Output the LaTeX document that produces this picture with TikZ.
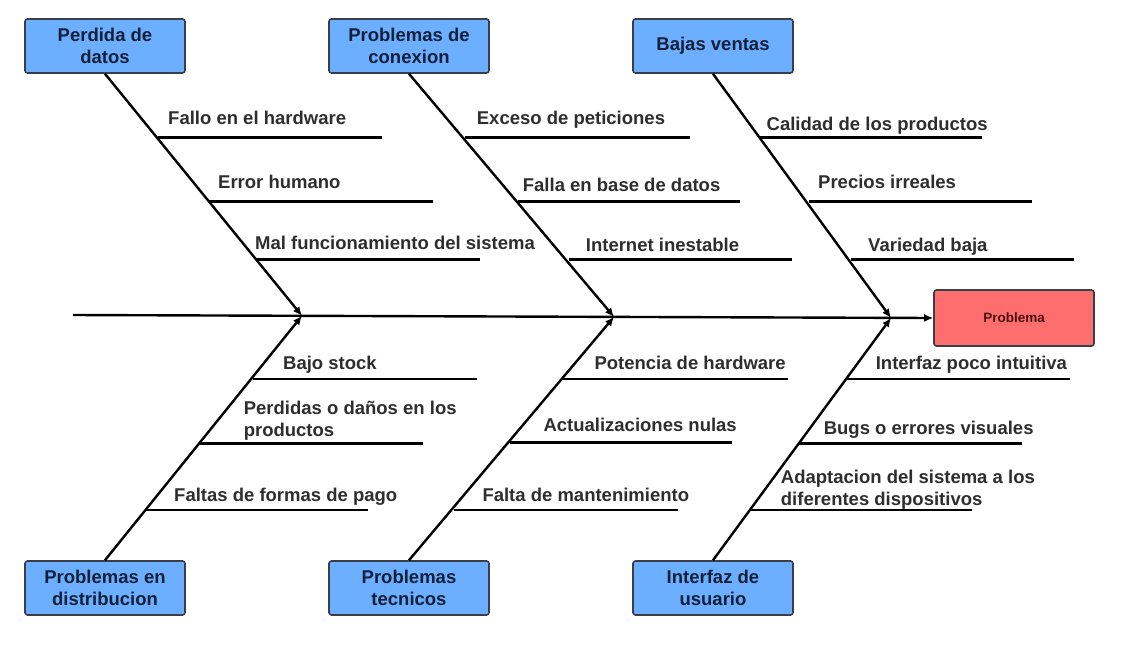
\documentclass[tikz,border=0pt]{standalone}
\usepackage{fontspec}
\setmainfont{Liberation Sans}
\usetikzlibrary{arrows.meta}
\definecolor{causeblue}{HTML}{6CAEFF}
\definecolor{causeline}{HTML}{3A3F47}
\definecolor{causetext}{HTML}{13203A}
\definecolor{effectred}{HTML}{FF6E6E}
\definecolor{effecttext}{HTML}{4A0E0E}
\definecolor{labeltext}{HTML}{2E2E2E}

\begin{document}
\begin{tikzpicture}[x=1pt, y=-1pt,
cause/.style={draw=causeline, line width=1.6pt, rounded corners=2.5pt, fill=causeblue,
text=causetext, align=center, font=\bfseries\fontsize{18.5}{22}\selectfont,
minimum width=160pt, minimum height=54pt, inner sep=2pt},
effect/.style={draw=causeline, line width=1.6pt, rounded corners=2.5pt, fill=effectred,
text=effecttext, font=\bfseries\fontsize{13.5}{16}\selectfont,
minimum width=160pt, minimum height=56pt},
bone/.style={line width=2.4pt, -{Latex[length=9pt,width=8pt]}},
twig/.style={line width=2.4pt},
lbl/.style={anchor=base west, inner sep=0pt, align=left, text=labeltext,
font=\bfseries\fontsize{18.5}{22}\selectfont}
]
\fill[white] (0,0) rectangle (1130,646);
\useasboundingbox (0,0) rectangle (1130,646);

% effect and main line
\node[effect] (problema) at (1014,318) {Problema};
\coordinate (tail) at (73,315);
\coordinate (j1) at (302,315.8);
\coordinate (j2) at (614,316.9);
\coordinate (j3) at (891,317.9);
\draw[bone] (tail) -- (problema.west);

% causes
\node[cause] (datos) at (105,46) {Perdida de\\datos};
\node[cause] (conexion) at (409,46) {Problemas de\\conexion};
\node[cause] (ventas) at (713,46) {Bajas ventas};
\node[cause] (distribucion) at (105,588) {Problemas en\\distribucion};
\node[cause] (tecnicos) at (409,588) {Problemas\\tecnicos};
\node[cause] (interfaz) at (713,588) {Interfaz de\\usuario};

\draw[bone] (datos.south) -- (j1);
\draw[bone] (conexion.south) -- (j2);
\draw[bone] (ventas.south) -- (j3);
\draw[bone] (distribucion.north) -- (j1);
\draw[bone] (tecnicos.north) -- (j2);
\draw[bone] (interfaz.north) -- (j3);

% Perdida de datos
\coordinate (d1) at (158,137.3);
\coordinate (d2) at (209,201.3);
\coordinate (d3) at (256,259.3);
\draw[twig] (d1) -- ++(224,0);
\draw[twig] (d2) -- ++(224,0);
\draw[twig] (d3) -- ++(224,0);
\node[lbl] (hardware) at (168,124) {Fallo en el hardware};
\node[lbl] (humano) at (218,188) {Error humano};
\node[lbl] (funcionamiento) at (255,249.5) {Mal funcionamiento del sistema};

% Problemas de conexion
\coordinate (c1) at (465,137.5);
\coordinate (c2) at (518,201.3);
\coordinate (c3) at (569,259.5);
\draw[twig] (c1) -- ++(225,0);
\draw[twig] (c2) -- ++(222,0);
\draw[twig] (c3) -- ++(223,0);
\node[lbl] (peticiones) at (476.7,124.3) {Exceso de peticiones};
\node[lbl] (basedatos) at (522.7,191.7) {Falla en base de datos};
\node[lbl] (internet) at (585.7,251.7) {Internet inestable};

% Bajas ventas
\coordinate (v1) at (759,137.3);
\coordinate (v2) at (809,201.3);
\coordinate (v3) at (851,259.3);
\draw[twig] (v1) -- ++(223,0);
\draw[twig] (v2) -- ++(223,0);
\draw[twig] (v3) -- ++(223,0);
\node[lbl] (calidad) at (766.5,130.7) {Calidad de los productos};
\node[lbl] (precios) at (818,188.3) {Precios irreales};
\node[lbl] (variedad) at (868,251.7) {Variedad baja};

% Problemas en distribucion
\coordinate (p1) at (253,379);
\coordinate (p2) at (200,443.3);
\coordinate (p3) at (145,510);
\draw[twig] (p1) -- ++(224,0);
\draw[twig] (p2) -- ++(223,0);
\draw[twig] (p3) -- ++(223,0);
\node[lbl] (stock) at (283,369) {Bajo stock};
\node[lbl] (perdidas) at (243.6,436) {Perdidas o daños en los\\productos};
\node[lbl] (pago) at (174,501.7) {Faltas de formas de pago};

% Problemas tecnicos
\coordinate (t1) at (563,378.8);
\coordinate (t2) at (510,442.5);
\coordinate (t3) at (454,510);
\draw[twig] (t1) -- ++(225,0);
\draw[twig] (t2) -- ++(222,0);
\draw[twig] (t3) -- ++(224,0);
\node[lbl] (potencia) at (594.3,369.3) {Potencia de hardware};
\node[lbl] (actualizaciones) at (543.3,431) {Actualizaciones nulas};
\node[lbl] (mantenimiento) at (482.3,501) {Falta de mantenimiento};

% Interfaz de usuario
\coordinate (u1) at (846,379);
\coordinate (u2) at (798.5,443.3);
\coordinate (u3) at (749,510);
\draw[twig] (u1) -- ++(224,0);
\draw[twig] (u2) -- ++(223,0);
\draw[twig] (u3) -- ++(223,0);
\node[lbl] (intuitiva) at (875.6,369) {Interfaz poco intuitiva};
\node[lbl] (bugs) at (823.6,434.3) {Bugs o errores visuales};
\node[lbl] (adaptacion) at (780.7,505.7) {Adaptacion del sistema a los\\diferentes dispositivos};
\end{tikzpicture}
\end{document}
